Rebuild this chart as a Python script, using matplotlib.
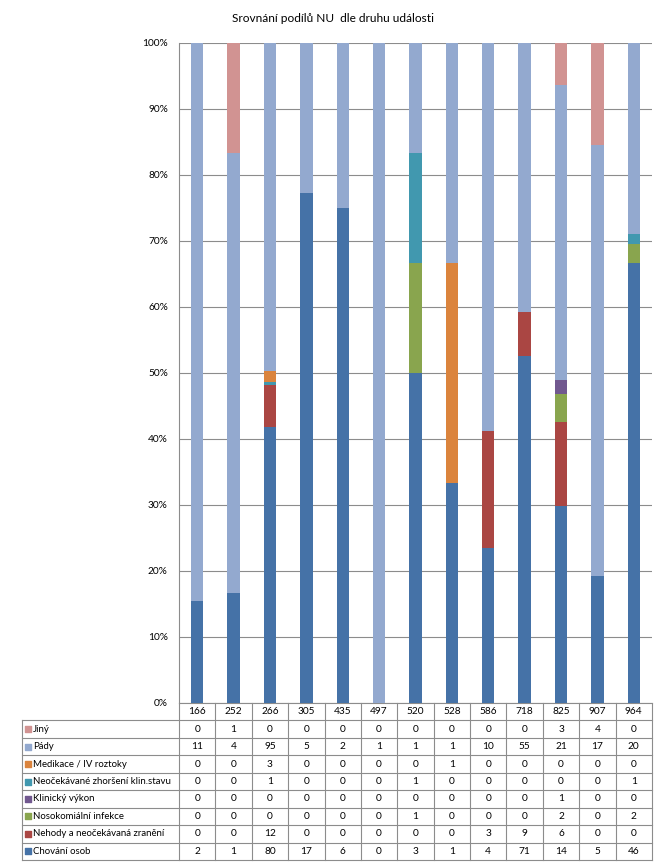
import matplotlib
matplotlib.use("Agg")
import matplotlib.pyplot as plt
import numpy as np

plt.rcParams['font.family'] = ['Lato', 'DejaVu Sans']

kategorie = ['166', '252', '266', '305', '435', '497', '520', '528', '586', '718', '825', '907', '964']

chovani = [2, 1, 80, 17, 6, 0, 3, 1, 4, 71, 14, 5, 46]
nehody = [0, 0, 12, 0, 0, 0, 0, 0, 3, 9, 6, 0, 0]
nosokomialni = [0, 0, 0, 0, 0, 0, 1, 0, 0, 0, 2, 0, 2]
klinicky = [0, 0, 0, 0, 0, 0, 0, 0, 0, 0, 1, 0, 0]
neocekavane = [0, 0, 1, 0, 0, 0, 1, 0, 0, 0, 0, 0, 1]
medikace = [0, 0, 3, 0, 0, 0, 0, 1, 0, 0, 0, 0, 0]
pady = [11, 4, 95, 5, 2, 1, 1, 1, 10, 55, 21, 17, 20]
jiny = [0, 1, 0, 0, 0, 0, 0, 0, 0, 0, 3, 4, 0]

# bottom -> top order of the stack
serie = [
    ("Chování osob", chovani, "#4572A7"),
    ("Nehody a neočekávaná zranění", nehody, "#AA4643"),
    ("Nosokomiální infekce", nosokomialni, "#89A54E"),
    ("Klinický výkon", klinicky, "#71588F"),
    ("Neočekávané zhoršení klin.stavu", neocekavane, "#4198AF"),
    ("Medikace / IV roztoky", medikace, "#DB843D"),
    ("Pády", pady, "#93A9CF"),
    ("Jiný", jiny, "#D19392"),
]

W, H = 667, 866
fig = plt.figure(figsize=(W / 100, H / 100), dpi=100)

# 1- stacked 100% bars
#=====================
x0, x1 = 179, 652
y_top, y_bot = 43, 703
ax = fig.add_axes([x0 / W, (H - y_bot) / H, (x1 - x0) / W, (y_bot - y_top) / H])

x = np.arange(len(kategorie))
total = np.sum([s[1] for s in serie], axis=0)
dole = np.zeros(len(kategorie))
for nazev, hodnoty, barva in serie:
    podil = np.array(hodnoty) / total
    ax.bar(x, podil, bottom=dole, width=0.34, color=barva, zorder=3)
    dole += podil

ax.set_xlim(-0.5, len(kategorie) - 0.5)
ax.set_ylim(0, 1)
ax.set_yticks(np.arange(0, 1.01, 0.1))
ax.set_yticklabels([f"{int(round(t * 100))}%" for t in np.arange(0, 1.01, 0.1)], fontsize=7.3)
ax.set_xticks([])
ax.tick_params(axis='y', length=0, pad=8)
ax.grid(axis='y', color='#8c8c8c', linewidth=0.8, zorder=0)
for s in ['top', 'right']:
    ax.spines[s].set_visible(False)
for s in ['left', 'bottom']:
    ax.spines[s].set_color('#8c8c8c')
    ax.spines[s].set_linewidth(0.8)

fig.text(333 / W, 1 - 18 / H, "Srovnání podílů NU  dle druhu události", ha='center', va='center', fontsize=8.6)

# 2- data table under the chart
#===============================
t_left, t_bot = 22, 860
col_w = (x1 - x0) / len(kategorie)
lab_w = (x0 - t_left) / col_w
tax = fig.add_axes([t_left / W, (H - t_bot) / H, (x1 - t_left) / W, (t_bot - y_bot) / H])
n_rows = len(serie) + 1
tax.set_xlim(-0.5 - lab_w, len(kategorie) - 0.5)
tax.set_ylim(n_rows, 0)
tax.axis('off')

lc = '#8c8c8c'
lw = 0.8
for r in range(1, n_rows + 1):
    tax.plot([-0.5 - lab_w, len(kategorie) - 0.5], [r, r], color=lc, lw=lw, clip_on=False)
tax.plot([-0.5 - lab_w, -0.5 - lab_w], [1, n_rows], color=lc, lw=lw, clip_on=False)
for k in range(len(kategorie) + 1):
    tax.plot([k - 0.5, k - 0.5], [0, n_rows], color=lc, lw=lw, clip_on=False)

for i, k in enumerate(kategorie):
    tax.text(i, 0.5, k, ha='center', va='center', fontsize=7.3)

for r, (nazev, hodnoty, barva) in enumerate(serie[::-1]):
    y = r + 1.5
    tax.scatter([-0.5 - lab_w + 0.17], [y], marker='s', s=14, color=barva, clip_on=False)
    tax.text(-0.5 - lab_w + 0.31, y, nazev, ha='left', va='center', fontsize=6.9)
    for i, v in enumerate(hodnoty):
        tax.text(i, y, str(v), ha='center', va='center', fontsize=7.3)

fig.savefig("out.png", dpi=100)
